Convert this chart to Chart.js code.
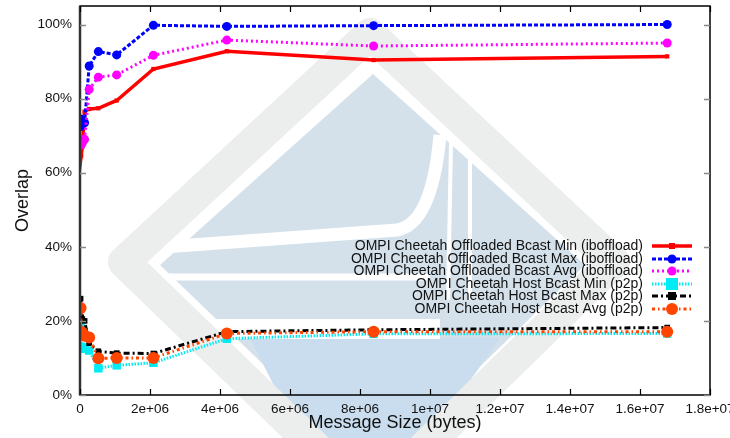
<!DOCTYPE html>
<html>
<head>
<meta charset="utf-8">
<script src="https://cdn.jsdelivr.net/npm/chart.js@4/dist/chart.umd.min.js"></script>
<style>
  html, body { margin: 0; padding: 0; background: #fff; }
  #wrap { width: 730px; height: 438px; }
</style>
</head>
<body>
<div id="wrap"><canvas id="c" width="730" height="438"></canvas></div>
<script>
// message sizes (bytes)
const sizes = [16384, 32768, 65536, 131072, 262144, 524288, 1048576, 2097152, 4194304, 8388608, 16777216];

// overlap in percent
const offMin = [66, 64.5, 67, 76.5, 77.2, 77.4, 79.5, 88, 92.8, 90.4, 91.4];
const offMax = [74.5, 72.5, 73.5, 73.5, 88.8, 92.7, 91.8, 99.8, 99.5, 99.7, 100];
const offAvg = [68.5, 67.5, 68, 69, 82.5, 85.8, 86.4, 91.7, 95.8, 94.2, 95];
const hostMin = [18.5, 13, 12.5, 12.8, 12, 7.2, 8, 8.7, 15.2, 16.5, 16.6];
const hostMax = [26, 21, 20.5, 20, 14, 11.8, 11.3, 11.2, 17.1, 17.6, 18.2];
const hostAvg = [23.5, 17, 16.8, 16, 15.5, 9.9, 10, 10, 16.6, 17.1, 17.1];

const labels = [
  'OMPI Cheetah Offloaded Bcast Min (iboffload)',
  'OMPI Cheetah Offloaded Bcast Max (iboffload)',
  'OMPI Cheetah Offloaded Bcast Avg (iboffload)',
  'OMPI Cheetah Host Bcast Min (p2p)',
  'OMPI Cheetah Host Bcast Max (p2p)',
  'OMPI Cheetah Host Bcast Avg (p2p)'
];
const yTicks = [0, 20, 40, 60, 80, 100];
const xTicks = [0, 2e6, 4e6, 6e6, 8e6, 1e7, 1.2e7, 1.4e7, 1.6e7, 1.8e7];

const series = [offMin, offMax, offAvg, hostMin, hostMax, hostAvg];
const styles = [
  { color: '#ff0000', width: 3.5, dash: [], point: 'rect', r: 3 },
  { color: '#0000ff', width: 3, dash: [4, 2], point: 'circle', r: 4.5 },
  { color: '#ff00ff', width: 3, dash: [2, 3], point: 'circle', r: 4.5 },
  { color: '#00ecf4', width: 3, dash: [1.5, 1.5], point: 'rect', r: 6 },
  { color: '#000000', width: 3, dash: [6, 3, 2, 3], point: 'rect', r: 4 },
  { color: '#ff4500', width: 3, dash: [3, 3, 1.5, 3], point: 'circle', r: 6 }
];

const FONT = '"Liberation Sans", Arial, sans-serif';
const toPts = arr => sizes.map((x, i) => ({ x: x, y: arr[i] }));

function sciLabel(v) {
  if (v === 0) return '0';
  const e = Math.floor(Math.log10(v) + 1e-9);
  const m = parseFloat((v / Math.pow(10, e)).toFixed(2));
  return m + 'e+' + String(e).padStart(2, '0');
}

// faint logo watermark behind the plot
const watermark = {
  id: 'watermark',
  beforeDraw(chart) {
    const ctx = chart.ctx;
    ctx.save();
    ctx.fillStyle = '#ffffff';
    ctx.fillRect(0, 0, chart.width, chart.height);
    ctx.lineJoin = 'round';
    // blue body
    ctx.fillStyle = '#d5e1ea';
    ctx.beginPath();
    ctx.moveTo(373, 74); ctx.lineTo(585, 265); ctx.lineTo(373, 470); ctx.lineTo(160, 265);
    ctx.closePath(); ctx.fill();
    ctx.fillStyle = '#c9ddee';
    ctx.beginPath();
    ctx.moveTo(250, 338); ctx.lineTo(500, 338); ctx.lineTo(430, 438); ctx.lineTo(300, 438);
    ctx.closePath(); ctx.fill();
    // white cuts
    ctx.strokeStyle = '#ffffff';
    ctx.lineWidth = 13;
    ctx.beginPath();
    ctx.moveTo(150, 248); ctx.lineTo(397, 230);
    ctx.quadraticCurveTo(432, 224, 440, 135);
    ctx.stroke();
    ctx.lineWidth = 7;
    ctx.beginPath();
    ctx.moveTo(150, 277); ctx.lineTo(430, 277);
    ctx.stroke();
    ctx.lineWidth = 20;
    ctx.beginPath();
    ctx.moveTo(150, 329); ctx.lineTo(440, 329);
    ctx.stroke();
    ctx.lineWidth = 4;
    ctx.beginPath();
    ctx.moveTo(452, 90); ctx.lineTo(448, 300);
    ctx.moveTo(470, 110); ctx.lineTo(470, 300);
    ctx.stroke();
    // grey frame band
    ctx.strokeStyle = '#eceeed';
    ctx.lineWidth = 32;
    ctx.beginPath();
    ctx.moveTo(370, 34); ctx.lineTo(614, 262); ctx.lineTo(370, 500); ctx.lineTo(124, 262);
    ctx.closePath(); ctx.stroke();
    ctx.restore();
  }
};

// gnuplot style frame, inward ticks and key
const frame = {
  id: 'frame',
  afterDraw(chart) {
    const ctx = chart.ctx;
    const a = chart.chartArea;
    const xs = chart.scales.x, ys = chart.scales.y;
    ctx.save();
    ctx.strokeStyle = '#000';
    ctx.lineWidth = 1.5;
    ctx.strokeRect(a.left, a.top, a.right - a.left, a.bottom - a.top);
    ctx.strokeStyle = '#333';
    ctx.lineWidth = 2.5;
    ctx.beginPath(); ctx.moveTo(a.left, a.top); ctx.lineTo(a.left, a.bottom); ctx.stroke();
    ctx.lineWidth = 1.2;
    ctx.strokeStyle = '#000';
    xTicks.forEach(v => {
      const px = Math.round(xs.getPixelForValue(v)) + 0.5;
      ctx.beginPath(); ctx.moveTo(px, a.bottom); ctx.lineTo(px, a.bottom - 6); ctx.stroke();
      ctx.beginPath(); ctx.moveTo(px, a.top); ctx.lineTo(px, a.top + 6); ctx.stroke();
    });
    ctx.strokeStyle = '#888';
    ctx.lineWidth = 1.5;
    yTicks.forEach(v => {
      const py = Math.round(ys.getPixelForValue(v)) + 0.5;
      ctx.beginPath(); ctx.moveTo(a.left, py); ctx.lineTo(a.left + 6, py); ctx.stroke();
      ctx.beginPath(); ctx.moveTo(a.right, py); ctx.lineTo(a.right - 6, py); ctx.stroke();
    });

    // key
    ctx.font = '14px ' + FONT;
    ctx.textAlign = 'right';
    ctx.textBaseline = 'middle';
    const rowY = [246, 259, 271, 284, 296, 309];
    labels.forEach((t, i) => {
      const s = styles[i];
      const y = rowY[i];
      ctx.fillStyle = '#111';
      ctx.fillText(t, 643, y);
      ctx.strokeStyle = s.color;
      ctx.lineWidth = s.width;
      ctx.setLineDash(s.dash);
      ctx.beginPath(); ctx.moveTo(652, y); ctx.lineTo(692, y); ctx.stroke();
      ctx.setLineDash([]);
      ctx.fillStyle = s.color;
      if (s.point === 'rect') {
        ctx.fillRect(672 - s.r, y - s.r, s.r * 2, s.r * 2);
      } else {
        ctx.beginPath(); ctx.arc(672, y, s.r, 0, Math.PI * 2); ctx.fill();
      }
    });
    ctx.restore();
  }
};

new Chart(document.getElementById('c'), {
  type: 'line',
  data: {
    datasets: series.map((arr, i) => ({
      label: labels[i],
      data: toPts(arr),
      borderColor: styles[i].color,
      backgroundColor: styles[i].color,
      borderWidth: styles[i].width,
      borderDash: styles[i].dash,
      pointStyle: styles[i].point,
      pointRadius: styles[i].r,
      pointBorderWidth: 0,
      fill: false,
      tension: 0,
      order: series.length - i
    }))
  },
  options: {
    responsive: false,
    animation: false,
    layout: { padding: { left: 0, right: 20, top: 3, bottom: 0 } },
    plugins: { legend: { display: false }, tooltip: { enabled: false } },
    scales: {
      x: {
        type: 'linear',
        min: 0,
        max: 1.8e7,
        afterFit: s => { s.height = 43; s.paddingLeft = 0; s.paddingRight = 0; },
        grid: { display: false, drawTicks: false },
        border: { display: false },
        afterBuildTicks: s => { s.ticks = xTicks.map(v => ({ value: v })); },
        ticks: {
          autoSkip: false,
          maxRotation: 0,
          padding: 6,
          color: '#111',
          font: { family: FONT, size: 13.5 },
          callback: v => sciLabel(v)
        },
        title: {
          display: true,
          text: 'Message Size (bytes)',
          color: '#111',
          padding: { top: 0, bottom: 4 },
          font: { family: FONT, size: 18 }
        }
      },
      y: {
        min: 0,
        max: 105,
        afterFit: s => { s.width = 80; s.paddingTop = 0; s.paddingBottom = 0; },
        grid: { display: false, drawTicks: false },
        border: { display: false },
        afterBuildTicks: s => { s.ticks = yTicks.map(v => ({ value: v })); },
        ticks: {
          padding: 8,
          color: '#111',
          font: { family: FONT, size: 13.5 },
          callback: v => v + '%'
        },
        title: {
          display: true,
          text: 'Overlap',
          color: '#111',
          padding: { top: 12, bottom: 0 },
          font: { family: FONT, size: 18 }
        }
      }
    }
  },
  plugins: [watermark, frame]
});
</script>
</body>
</html>
